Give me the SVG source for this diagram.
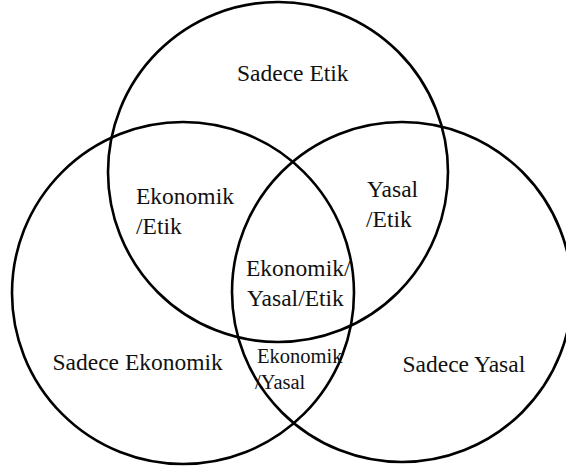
<svg xmlns="http://www.w3.org/2000/svg" width="566" height="468" viewBox="0 0 566 468">
<style>
.c{fill:none;stroke:#000;stroke-width:2.6}
text{font-family:'Liberation Serif','Times New Roman','DejaVu Serif',serif;font-size:23.5px;fill:#111}
.s{font-size:20.5px}
</style>
<rect width="566" height="468" fill="#fff"/>
<g id="etik"><circle class="c" cx="278" cy="172" r="170"/></g>
<g id="ekonomik"><circle class="c" cx="183" cy="293" r="171"/></g>
<g id="yasal"><circle class="c" cx="402" cy="292" r="170"/></g>
<g id="labels" font-family="Liberation Serif, serif">
<text x="237" y="81">Sadece Etik</text>
<text x="136" y="204">Ekonomik</text>
<text x="136" y="234">/Etik</text>
<text x="367" y="197">Yasal</text>
<text x="366" y="227">/Etik</text>
<text x="246" y="276">Ekonomik/</text>
<text x="247" y="306">Yasal/Etik</text>
<text x="52.5" y="370">Sadece Ekonomik</text>
<text class="s" x="257" y="363">Ekonomik</text>
<text class="s" x="255" y="389">/Yasal</text>
<text x="402.5" y="372">Sadece Yasal</text>
</g>
</svg>
